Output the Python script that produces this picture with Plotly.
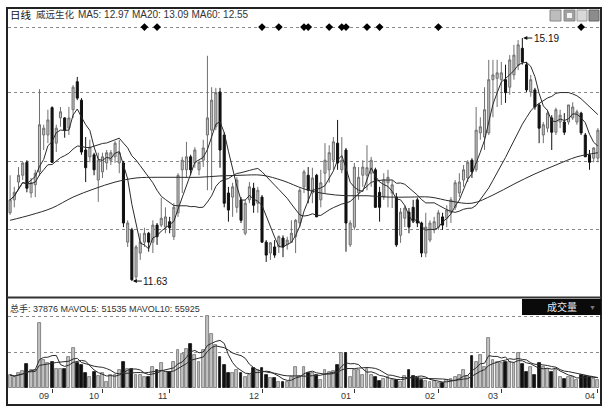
import plotly.graph_objects as go
import pandas as pd

W, H = 609, 411


def fx(px):
    return px / W


def fy(py):
    return 1 - py / H


# ---------------- data ----------------
opens = [12.63, 12.82, 13.08, 13.18, 13.37, 12.92, 13.04, 13.23, 13.77, 13.77,
         14.17, 13.65, 14.02, 14.02, 13.87, 14.14, 14.55, 14.28, 13.55, 13.45,
         13.48, 13.11, 13.23, 13.36, 13.40, 13.45, 13.36, 13.36, 12.20, 12.38,
         11.69, 12.04, 12.20, 12.33, 12.20, 12.45, 12.45, 12.42, 12.50, 12.28,
         12.63, 13.26, 13.26, 13.45, 13.36, 13.26, 13.40, 13.77, 13.84, 13.89,
         14.40, 13.77, 12.92, 12.86, 12.71, 12.82, 12.33, 12.82, 12.99, 12.77,
         12.86, 12.20, 12.04, 12.13, 12.13, 12.26, 12.16, 12.20, 12.28, 12.48,
         13.01, 13.18, 12.92, 13.18, 12.82, 13.21, 13.26, 13.40, 13.65, 13.26,
         13.55, 12.16, 12.42, 12.92, 13.18, 13.18, 13.21, 13.26, 12.93, 12.86,
         13.07, 12.92, 12.86, 12.30, 12.55, 12.64, 12.71, 12.82, 12.48, 12.04,
         12.23, 12.38, 12.42, 12.57, 12.55, 12.63, 12.71, 12.92, 13.11, 13.14,
         13.40, 13.26, 13.80, 13.74, 13.80, 14.58, 14.60, 14.58, 14.58, 14.47,
         14.65, 14.79, 15.04, 14.80, 14.40, 14.43, 14.21, 13.77, 13.87, 14.02,
         13.81, 13.96, 13.96, 13.96, 14.02, 13.96, 14.09, 13.77, 13.48, 13.43,
         13.43]
highs = [13.18, 13.01, 13.30, 13.37, 13.40, 13.14, 13.26, 14.44, 13.92, 14.14,
         14.19, 13.92, 14.18, 14.03, 14.18, 14.50, 14.62, 14.31, 13.74, 13.70,
         13.51, 13.51, 13.51, 13.55, 13.55, 13.68, 13.70, 13.39, 12.52, 12.41,
         12.16, 12.33, 12.41, 12.35, 12.52, 12.48, 12.85, 12.71, 12.57, 12.77,
         13.21, 13.45, 13.67, 13.48, 13.59, 13.40, 13.70, 14.93, 14.47, 14.46,
         14.46, 13.81, 13.01, 13.07, 13.15, 12.86, 12.82, 13.08, 13.07, 13.01,
         12.89, 12.23, 12.20, 12.23, 12.30, 12.30, 12.28, 12.52, 12.54, 12.99,
         13.26, 13.30, 13.29, 13.20, 13.26, 13.65, 13.62, 13.74, 13.99, 13.74,
         13.58, 12.52, 13.36, 13.30, 13.40, 13.62, 13.45, 13.29, 13.01, 13.21,
         13.26, 13.11, 12.92, 12.70, 12.74, 12.70, 12.82, 12.85, 12.50, 12.63,
         12.52, 12.57, 12.67, 12.63, 12.74, 12.86, 13.11, 13.21, 13.33, 13.40,
         13.43, 14.18, 14.03, 14.47, 14.87, 14.87, 14.87, 14.84, 14.80, 14.94,
         15.09, 15.16, 15.19, 14.84, 14.65, 14.46, 14.24, 13.96, 14.14, 14.06,
         14.17, 14.14, 14.09, 14.21, 14.25, 14.14, 14.11, 13.80, 13.55, 13.59,
         13.87]
lows = [12.60, 12.71, 12.96, 13.11, 12.93, 12.85, 12.86, 13.17, 13.55, 13.65,
        13.36, 13.52, 13.89, 13.73, 13.77, 14.02, 14.28, 13.48, 13.08, 13.37,
        13.18, 12.79, 13.14, 13.26, 13.33, 13.36, 13.21, 12.42, 12.13, 11.63,
        11.65, 11.94, 12.13, 12.06, 12.04, 12.16, 12.42, 12.33, 12.33, 12.23,
        12.57, 12.92, 13.14, 13.18, 13.29, 13.18, 13.30, 12.96, 12.96, 13.84,
        13.29, 12.71, 12.50, 12.57, 12.63, 12.48, 12.30, 12.77, 12.63, 12.63,
        12.19, 11.91, 11.94, 11.97, 12.04, 11.98, 12.09, 12.19, 12.04, 12.42,
        12.92, 12.77, 12.77, 12.57, 12.71, 12.92, 13.07, 13.26, 13.26, 13.21,
        12.06, 12.13, 12.38, 12.82, 13.01, 12.96, 13.01, 12.70, 12.50, 12.82,
        12.71, 12.70, 12.13, 12.19, 12.42, 12.33, 12.48, 12.42, 11.98, 11.98,
        12.20, 12.33, 12.38, 12.38, 12.42, 12.48, 12.67, 12.86, 13.01, 13.08,
        13.14, 13.23, 13.70, 13.55, 13.77, 14.03, 14.18, 14.21, 14.24, 14.36,
        14.58, 14.72, 14.80, 14.40, 14.33, 14.14, 13.65, 13.65, 13.81, 13.55,
        13.77, 13.87, 13.77, 13.92, 13.99, 13.92, 13.77, 13.45, 13.26, 13.37,
        13.37]
closes = [12.82, 12.93, 13.18, 13.36, 12.99, 13.07, 13.21, 13.92, 13.87, 13.99,
          13.37, 13.87, 14.11, 13.84, 14.02, 14.47, 14.31, 13.52, 13.29, 13.59,
          13.26, 13.40, 13.45, 13.51, 13.51, 13.65, 13.51, 12.48, 12.48, 11.65,
          12.13, 12.20, 12.33, 12.20, 12.45, 12.28, 12.55, 12.57, 12.41, 12.71,
          13.18, 13.40, 13.45, 13.26, 13.55, 13.37, 13.58, 14.02, 14.28, 14.39,
          13.55, 12.77, 12.67, 13.01, 13.11, 12.52, 12.77, 13.01, 12.74, 12.96,
          12.20, 12.01, 12.19, 12.01, 12.28, 12.13, 12.23, 12.33, 12.52, 12.96,
          13.23, 12.96, 13.14, 12.57, 13.07, 13.40, 13.51, 13.67, 13.36, 13.40,
          12.48, 12.48, 13.30, 13.15, 13.30, 13.29, 13.40, 12.71, 12.71, 13.11,
          13.15, 13.04, 12.16, 12.64, 12.70, 12.42, 12.52, 12.48, 12.04, 12.42,
          12.48, 12.50, 12.63, 12.45, 12.67, 12.82, 13.07, 13.08, 13.26, 13.37,
          13.23, 13.84, 13.89, 14.14, 14.58, 14.65, 14.68, 14.68, 14.39, 14.87,
          14.94, 15.09, 14.84, 14.43, 14.58, 14.18, 13.87, 13.92, 14.09, 13.81,
          14.14, 14.06, 13.81, 14.21, 14.18, 14.11, 13.80, 13.45, 13.37, 13.58,
          13.84]
volumes = [65000, 55000, 75000, 85000, 120000, 90000, 90000, 325000, 140000, 125000,
           130000, 95000, 95000, 95000, 155000, 200000, 125000, 115000, 75000, 55000,
           80000, 60000, 75000, 30000, 65000, 65000, 90000, 130000, 95000, 95000,
           65000, 65000, 55000, 55000, 105000, 90000, 125000, 80000, 80000, 130000,
           190000, 170000, 195000, 220000, 165000, 130000, 190000, 360000, 270000, 215000,
           155000, 115000, 75000, 75000, 90000, 75000, 55000, 65000, 100000, 90000,
           100000, 65000, 50000, 50000, 30000, 30000, 30000, 55000, 105000, 60000,
           105000, 75000, 75000, 65000, 40000, 90000, 80000, 85000, 115000, 175000,
           175000, 55000, 90000, 90000, 65000, 95000, 65000, 55000, 35000, 45000,
           55000, 40000, 40000, 30000, 60000, 90000, 60000, 50000, 40000, 35000,
           30000, 35000, 25000, 25000, 40000, 45000, 55000, 65000, 90000, 60000,
           160000, 130000, 165000, 105000, 250000, 140000, 130000, 125000, 130000, 130000,
           125000, 175000, 120000, 80000, 105000, 65000, 125000, 105000, 95000, 80000,
           90000, 55000, 45000, 55000, 55000, 40000, 65000, 60000, 55000, 45000,
           37876]
ma60_idx = list(range(0, 141, 5))
ma60_vals = [12.52, 12.60, 12.70, 12.86, 12.98, 13.08, 13.14, 13.15, 13.15, 13.15,
             13.17, 13.18, 13.18, 13.10, 12.98, 12.91, 12.88, 12.88, 12.86, 12.86,
             12.86, 12.80, 12.77, 12.89, 13.05, 13.20, 13.33, 13.45, 13.51]
signal_idx = [32, 35, 60, 64, 70, 71, 76, 79, 80, 85, 88, 102, 136]
month_idx = [10, 22, 38, 60, 82, 102, 117, 140]
month_labels = ["09", "10", "11", "12", "01", "02", "03", "04"]
high_idx, high_val = 122, 15.19
low_idx, low_val = 29, 11.63
header_main = "MA5: 12.97 MA20: 13.09 MA60: 12.55"
header_vol = "总手: 37876 MAVOL5: 51535 MAVOL10: 55925"

# ---------------- derived series ----------------
n = len(closes)
idx = list(range(n))
cl = pd.Series(closes)
ma5 = cl.rolling(5, min_periods=1).mean()
ma20 = cl.rolling(20, min_periods=1).mean()
vs = pd.Series(volumes)
mavol5 = vs.rolling(5, min_periods=1).mean()
mavol10 = vs.rolling(10, min_periods=1).mean()
is_up = [c >= o for o, c in zip(opens, closes)]

# price axis geometry
P_TOP, P_BOT = 15.425, 11.411
SIG_LEVEL = 15.351
grid_main = [12.378, 13.388, 14.385, SIG_LEVEL]

UP_LINE, UP_FILL = "#707070", "#c2c2c2"
DN = "#111111"
MA_COL = "#2b2b2b"

fig = go.Figure()
fig.add_trace(go.Candlestick(
    x=idx, open=opens, high=highs, low=lows, close=closes,
    increasing=dict(line=dict(color=UP_LINE, width=1), fillcolor=UP_FILL),
    decreasing=dict(line=dict(color=DN, width=1), fillcolor=DN),
    whiskerwidth=0, showlegend=False, hoverinfo="skip", xaxis="x", yaxis="y"))
for s in (ma5, ma20):
    fig.add_trace(go.Scatter(x=idx, y=s, mode="lines", line=dict(color=MA_COL, width=1),
                             showlegend=False, hoverinfo="skip", xaxis="x", yaxis="y"))
fig.add_trace(go.Scatter(x=ma60_idx, y=ma60_vals, mode="lines",
                         line=dict(color=MA_COL, width=1, shape="spline"),
                         showlegend=False, hoverinfo="skip", xaxis="x", yaxis="y"))
fig.add_trace(go.Scatter(x=signal_idx, y=[SIG_LEVEL] * len(signal_idx), mode="markers",
                         marker=dict(symbol="diamond", size=6, color="#000"),
                         showlegend=False, hoverinfo="skip", xaxis="x", yaxis="y"))

fig.add_trace(go.Bar(
    x=idx, y=volumes, width=0.68,
    marker=dict(color=[UP_FILL if u else DN for u in is_up],
                line=dict(color=[UP_LINE if u else DN for u in is_up], width=0.8)),
    showlegend=False, hoverinfo="skip", xaxis="x2", yaxis="y2"))
for s in (mavol5, mavol10):
    fig.add_trace(go.Scatter(x=idx, y=s, mode="lines", line=dict(color=MA_COL, width=1),
                             showlegend=False, hoverinfo="skip", xaxis="x2", yaxis="y2"))

xdom = [fx(8), fx(600)]
xr = [-0.5, n - 0.5]
fig.update_layout(
    width=W, height=H, margin=dict(l=0, r=0, t=0, b=0),
    paper_bgcolor="white", plot_bgcolor="white", bargap=0,
    font=dict(family="Liberation Sans, Noto Sans CJK SC", size=10, color="#222"),
    xaxis=dict(domain=xdom, range=xr, anchor="y", showgrid=False, zeroline=False,
               showticklabels=False, ticks="", rangeslider=dict(visible=False), fixedrange=True),
    yaxis=dict(domain=[fy(296), fy(22)], range=[P_BOT, P_TOP], anchor="x",
               tickvals=grid_main, showticklabels=False, ticks="", zeroline=False,
               showgrid=True, gridcolor="#8a8a8a", gridwidth=1, griddash="dot", fixedrange=True),
    xaxis2=dict(domain=xdom, range=xr, anchor="y2", showgrid=False, zeroline=False,
                tickvals=month_idx, ticktext=[""] * len(month_idx), ticks="outside",
                ticklen=4, tickcolor="#333", tickwidth=1, showticklabels=False, fixedrange=True),
    yaxis2=dict(domain=[fy(388), fy(299)], range=[0, 445000], anchor="x2",
                tickvals=[180000, 360000], showticklabels=False, ticks="", zeroline=False,
                showgrid=True, gridcolor="#8a8a8a", gridwidth=1, griddash="dot", fixedrange=True),
)

shapes = [
    dict(type="rect", xref="paper", yref="paper", x0=fx(7), x1=fx(601), y0=fy(405), y1=fy(8),
         line=dict(color="#222", width=2), fillcolor="rgba(0,0,0,0)", layer="above"),
    dict(type="line", xref="paper", yref="paper", x0=fx(7), x1=fx(601), y0=fy(297.5), y1=fy(297.5),
         line=dict(color="#333", width=2), layer="above"),
    dict(type="rect", xref="paper", yref="paper", x0=fx(522), x1=fx(601), y0=fy(315), y1=fy(299),
         line=dict(width=0), fillcolor="#0a0a0a", layer="above"),
    # toolbar icons top-right
    dict(type="rect", xref="paper", yref="paper", x0=fx(550), x1=fx(561), y0=fy(21), y1=fy(10),
         line=dict(color="#888", width=1), fillcolor="#bdbdbd", layer="above"),
    dict(type="rect", xref="paper", yref="paper", x0=fx(564), x1=fx(575), y0=fy(21), y1=fy(10),
         line=dict(color="#888", width=1), fillcolor="#a0a0a0", layer="above"),
    dict(type="rect", xref="paper", yref="paper", x0=fx(567), x1=fx(572), y0=fy(18), y1=fy(13),
         line=dict(width=0), fillcolor="#f4f4f4", layer="above"),
    dict(type="rect", xref="paper", yref="paper", x0=fx(577), x1=fx(587), y0=fy(21), y1=fy(10),
         line=dict(color="#999", width=1), fillcolor="#d8d8d8", layer="above"),
    dict(type="rect", xref="paper", yref="paper", x0=fx(589), x1=fx(599), y0=fy(21), y1=fy(10),
         line=dict(color="#666", width=1), fillcolor="#8c8c8c", layer="above"),
]
fig.update_layout(shapes=shapes)

ann = [
    dict(xref="paper", yref="paper", x=fx(8), y=fy(15), xanchor="left", yanchor="middle",
         text="日线", showarrow=False, font=dict(size=10.5, color="#111")),
    dict(xref="paper", yref="paper", x=fx(34), y=fy(15), xanchor="left", yanchor="middle",
         text="威远生化", showarrow=False, font=dict(size=9.5, color="#333")),
    dict(xref="paper", yref="paper", x=fx(76), y=fy(15), xanchor="left", yanchor="middle",
         text=header_main, showarrow=False, font=dict(size=10, color="#333")),
    dict(xref="paper", yref="paper", x=fx(8), y=fy(308), xanchor="left", yanchor="middle",
         text=header_vol, showarrow=False, font=dict(size=9, color="#333")),
    dict(xref="paper", yref="paper", x=fx(562), y=fy(307), xanchor="center", yanchor="middle",
         text="成交量", showarrow=False, font=dict(size=10, color="#e8e8e8")),
    dict(xref="paper", yref="paper", x=fx(592), y=fy(307), xanchor="center", yanchor="middle",
         text="▼", showarrow=False, font=dict(size=7, color="#777")),
    dict(x=high_idx, y=high_val, xref="x", yref="y", text=f"{high_val:.2f}", showarrow=True,
         ax=24, ay=0, arrowhead=2, arrowsize=0.8, arrowwidth=1, arrowcolor="#111",
         font=dict(size=10, color="#111"), standoff=1),
    dict(x=low_idx, y=low_val, xref="x", yref="y", text=f"{low_val:.2f}", showarrow=True,
         ax=24, ay=0, arrowhead=2, arrowsize=0.8, arrowwidth=1, arrowcolor="#111",
         font=dict(size=10, color="#111"), standoff=1),
]
for mi, ml in zip(month_idx, month_labels):
    ann.append(dict(x=mi, y=fy(396), xref="x2", yref="paper", text=ml, showarrow=False,
                    xanchor="right", yanchor="middle", xshift=-1,
                    font=dict(size=9, color="#333")))
fig.update_layout(annotations=ann)

fig.write_html("out.html", config={"displayModeBar": False},
               post_script="document.body.style.margin='0';document.body.style.padding='0';"
                           "document.documentElement.style.overflow='hidden';")
